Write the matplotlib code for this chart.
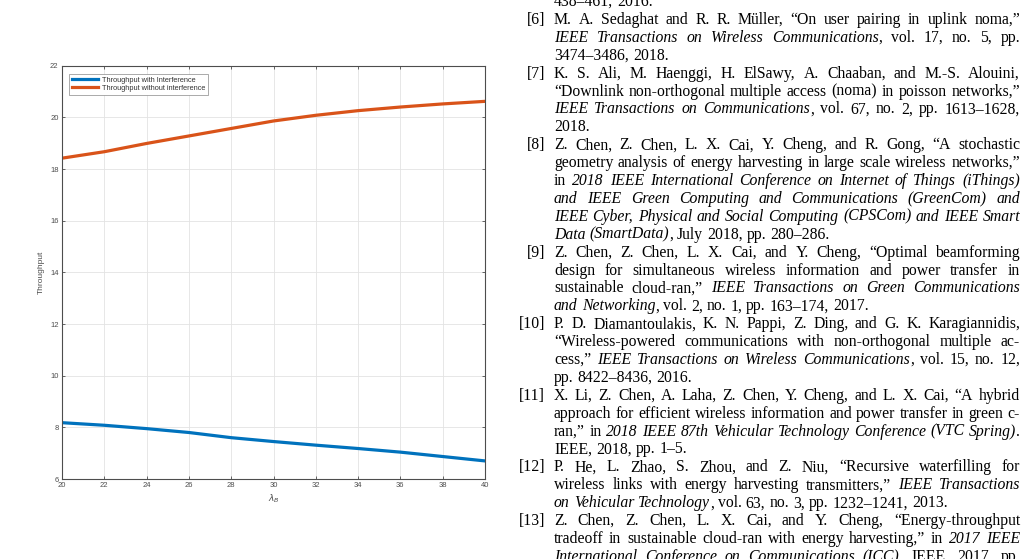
import matplotlib
matplotlib.use("Agg")
import matplotlib.pyplot as plt

# ---- chart data ----
lambda_b = [20, 22, 24, 26, 28, 30, 32, 34, 36, 38, 40]
thr_interf = [8.18, 8.08, 7.95, 7.80, 7.60, 7.45, 7.31, 7.18, 7.04, 6.87, 6.70]
thr_no_interf = [18.42, 18.67, 18.99, 19.28, 19.57, 19.86, 20.08, 20.26, 20.40, 20.52, 20.62]
series_labels = ["Throughput with Interference", "Throughput without interference"]
x_ticks = list(range(20, 41, 2))
y_ticks = list(range(6, 23, 2))

# ---- reference list on the right (italic parts between *...*) ----
ref_labels = ["", "[6]", "", "", "[7]", "", "", "", "[8]", "", "", "", "", "",
              "[9]", "", "", "", "[10]", "", "", "", "[11]", "", "", "",
              "[12]", "", "", "[13]", "", ""]
ref_lines = [
    "438–461, 2016.",
    "M. A. Sedaghat and R. R. Müller, “On user pairing in uplink noma,”",
    "*IEEE Transactions on Wireless Communications*, vol. 17, no. 5, pp.",
    "3474–3486, 2018.",
    "K. S. Ali, M. Haenggi, H. ElSawy, A. Chaaban, and M.-S. Alouini,",
    "“Downlink non-orthogonal multiple access (noma) in poisson networks,”",
    "*IEEE Transactions on Communications*, vol. 67, no. 2, pp. 1613–1628,",
    "2018.",
    "Z. Chen, Z. Chen, L. X. Cai, Y. Cheng, and R. Gong, “A stochastic",
    "geometry analysis of energy harvesting in large scale wireless networks,”",
    "in *2018 IEEE International Conference on Internet of Things (iThings)*",
    "*and IEEE Green Computing and Communications (GreenCom) and*",
    "*IEEE Cyber, Physical and Social Computing (CPSCom) and IEEE Smart*",
    "*Data (SmartData)*, July 2018, pp. 280–286.",
    "Z. Chen, Z. Chen, L. X. Cai, and Y. Cheng, “Optimal beamforming",
    "design for simultaneous wireless information and power transfer in",
    "sustainable cloud-ran,” *IEEE Transactions on Green Communications*",
    "*and Networking*, vol. 2, no. 1, pp. 163–174, 2017.",
    "P. D. Diamantoulakis, K. N. Pappi, Z. Ding, and G. K. Karagiannidis,",
    "“Wireless-powered communications with non-orthogonal multiple ac-",
    "cess,” *IEEE Transactions on Wireless Communications*, vol. 15, no. 12,",
    "pp. 8422–8436, 2016.",
    "X. Li, Z. Chen, A. Laha, Z. Chen, Y. Cheng, and L. X. Cai, “A hybrid",
    "approach for efficient wireless information and power transfer in green c-",
    "ran,” in *2018 IEEE 87th Vehicular Technology Conference (VTC Spring)*.",
    "IEEE, 2018, pp. 1–5.",
    "P. He, L. Zhao, S. Zhou, and Z. Niu, “Recursive waterfilling for",
    "wireless links with energy harvesting transmitters,” *IEEE Transactions*",
    "*on Vehicular Technology*, vol. 63, no. 3, pp. 1232–1241, 2013.",
    "Z. Chen, Z. Chen, L. X. Cai, and Y. Cheng, “Energy-throughput",
    "tradeoff in sustainable cloud-ran with energy harvesting,” in *2017 IEEE*",
    "*International Conference on Communications (ICC)*. IEEE, 2017, pp.",
]
# lines that end a paragraph are not justified
ref_last = {0, 3, 7, 13, 17, 21, 25, 28}

W, H = 1027, 559
BLUE = "#0072BD"
ORANGE = "#D95319"
AX_COL = "#4d4d4d"

plt.rcParams["font.family"] = ["Liberation Sans", "DejaVu Sans"]

fig = plt.figure(figsize=(W / 100, H / 100), dpi=100)

# ---------------- chart ----------------
ax = fig.add_axes([62 / W, 1 - 479 / H, 423 / W, 413.3 / H])
ax.plot(lambda_b, thr_interf, color=BLUE, lw=2.3, label=series_labels[0])
ax.plot(lambda_b, thr_no_interf, color=ORANGE, lw=2.3, label=series_labels[1])
ax.set_xlim(20, 40)
ax.set_ylim(6, 22)
ax.set_xticks(x_ticks)
ax.set_yticks(y_ticks)
ax.grid(True, color="#e3e3e3", lw=0.6)
ax.set_axisbelow(True)
ax.tick_params(direction="in", length=2.5, width=0.6, colors=AX_COL,
               labelsize=5.5, top=True, right=True, pad=2.5)
for sp in ax.spines.values():
    sp.set_color(AX_COL)
    sp.set_linewidth(0.8)
ax.set_xlabel(r"$\lambda_B$", fontsize=6.5, color=AX_COL, labelpad=2)
ax.set_ylabel("Throughput", fontsize=6, color=AX_COL, labelpad=4)
leg = ax.legend(loc="upper left", bbox_to_anchor=(0.0165, 0.98), fontsize=5.3,
                frameon=True, fancybox=False, framealpha=1, edgecolor="#888888",
                handlelength=3.6, borderpad=0.35, labelspacing=0.15,
                handletextpad=0.5, borderaxespad=0)
leg.get_frame().set_linewidth(0.5)
for t in leg.get_texts():
    t.set_color("#333333")

# ---------------- reference column ----------------
renderer = fig.canvas.get_renderer()
_cache = {}


def text_width(s, italic, size):
    key = (s, italic, size)
    if key not in _cache:
        t = fig.text(0, 0, s, family="Liberation Serif", fontsize=size,
                     style="italic" if italic else "normal")
        _cache[key] = t.get_window_extent(renderer).width
        t.remove()
    return _cache[key]


def split_chunks(line):
    parts = line.split("*")
    chunks = [[]]
    for i, part in enumerate(parts):
        italic = i % 2 == 1
        for j, w in enumerate(part.split(" ")):
            if j > 0:
                chunks.append([])
            if w:
                chunks[-1].append((w, italic))
    return [c for c in chunks if c]


def chunk_width(chunk, size):
    return sum(text_width(s, it, size) for s, it in chunk)


text_left, text_right = 554, 1020
label_right = 545
line_w = text_right - text_left

# pick the size so the widest justified line just fits
base = 10
widest = 0
for i, line in enumerate(ref_lines):
    if i in ref_last:
        continue
    ch = split_chunks(line)
    nat = sum(chunk_width(c, base) for c in ch) + (len(ch) - 1) * text_width("a a", False, base) \
        - (len(ch) - 1) * 2 * text_width("a", False, base)
    widest = max(widest, nat)
fsize = round(base * line_w / widest * 0.995, 2)

space_w = text_width("a a", False, fsize) - 2 * text_width("a", False, fsize)

for i, line in enumerate(ref_lines):
    base_y = 6 + i * 17.9
    fy = 1 - base_y / H
    if ref_labels[i]:
        fig.text(label_right / W, fy, ref_labels[i], family="Liberation Serif",
                 fontsize=fsize, ha="right", va="baseline", color="black")
    ch = split_chunks(line)
    widths = [chunk_width(c, fsize) for c in ch]
    if i in ref_last or len(ch) < 2:
        gap = space_w
    else:
        gap = (line_w - sum(widths)) / (len(ch) - 1)
    x = text_left
    for c, cw in zip(ch, widths):
        px = x
        for s, it in c:
            fig.text(px / W, fy, s, family="Liberation Serif", fontsize=fsize,
                     style="italic" if it else "normal", ha="left",
                     va="baseline", color="black")
            px += text_width(s, it, fsize)
        x += cw + gap

fig.savefig("out.png", dpi=100)
